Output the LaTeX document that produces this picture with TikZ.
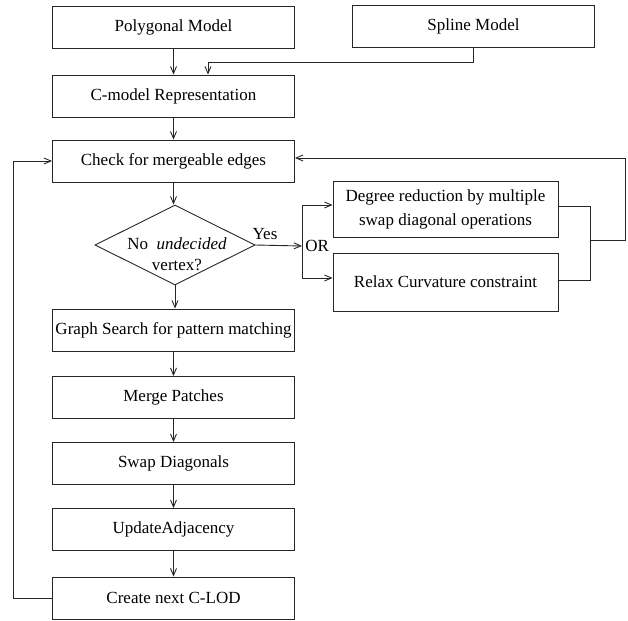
\documentclass[tikz,border=0pt]{standalone}
\usepackage{fontspec}
\setmainfont{Liberation Serif}
\usetikzlibrary{arrows.meta,shapes.geometric}
\begin{document}
\begin{tikzpicture}[x=1pt,y=-1pt,
  line width=0.9pt, draw=black!85,
  txt/.style={font=\fontsize{17}{21}\selectfont, inner sep=0pt},
  box/.style={draw, txt, minimum width=242pt, minimum height=42pt, align=center},
  wide/.style={box, minimum width=225pt},
  decision/.style={draw, diamond, minimum width=160pt, minimum height=80pt, inner sep=0pt},
  arr/.style={-{Straight Barb[length=7pt,width=6pt]}},
]
\useasboundingbox (0,0) rectangle (628,620);

% main column
\node[box] (poly)   at (173.5,27)  {Polygonal Model};
\node[box] (spline) at (473.5,26)  {Spline Model};
\node[box] (cmodel) at (173.5,96)  {C-model Representation};
\node[box] (check)  at (173.5,161) {Check for mergeable edges};
\node[decision] (dec) at (175,245) {};
\node[txt, align=center] (dectext) at (177,254.5) {No\ \ \textit{undecided}\\vertex?};
\node[box] (graph)  at (173.5,330) {Graph Search for pattern matching};
\node[box] (merge)  at (173.5,397.5) {Merge Patches};
\node[box] (swap)   at (173.5,463.5) {Swap Diagonals};
\node[box] (update) at (173.5,529.5) {UpdateAdjacency};
\node[box] (create) at (173.5,598) {Create next C-LOD};

% alternative branch
\node[wide, minimum height=56pt, font=\fontsize{17}{24}\selectfont] (degree) at (445.5,209)
  {Degree reduction by multiple\\swap diagonal operations};
\node[wide, minimum height=58pt] (relax) at (445.5,282) {Relax Curvature constraint};

\node[txt] (yes) at (265,234) {Yes};
\node[txt, anchor=west] (or) at (305,246) {OR};

% junction points
\coordinate (sj) at (208,62);
\coordinate (oj) at (302,246);
\coordinate (rj) at (590,240);
\coordinate (rr) at (625,240);
\coordinate (lx) at (13,0);

% vertical flow
\draw[arr] (poly) -- (cmodel);
\draw[arr] (spline.south) |- (sj) -- (sj |- cmodel.north);
\draw[arr] (cmodel) -- (check);
\draw[arr] (check.south) -- (check.south |- dec.north);
\draw[arr] (dec.south) -- (dec.south |- graph.north);
\draw[arr] (graph) -- (merge);
\draw[arr] (merge) -- (swap);
\draw[arr] (swap) -- (update);
\draw[arr] (update) -- (create);

% decision to the two options
\draw[arr] (dec.east) -- (oj);
\draw[arr] (oj) |- ([yshift=4pt]degree.west);
\draw[arr] (oj) |- ([yshift=4pt]relax.west);

% feedback from the options
\draw ([yshift=3pt]degree.east) -| (rj) |- ([yshift=2pt]relax.east);
\draw[arr] (rj) -- (rr) |- ([yshift=3pt]check.east);

% loop back from the next level of detail
\draw[arr] (create.west) -- (create.west -| lx) |- (check.west);
\end{tikzpicture}
\end{document}
